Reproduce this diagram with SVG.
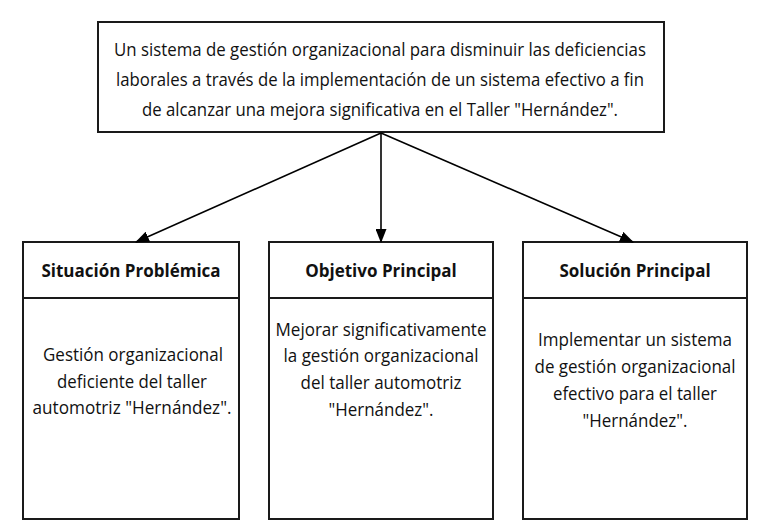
<svg xmlns="http://www.w3.org/2000/svg" width="764" height="531" viewBox="0 0 764 531">
<defs>
<marker id="ah" markerWidth="14" markerHeight="11" refX="13" refY="5.5" orient="auto" markerUnits="userSpaceOnUse">
<path d="M0,0 L14,5.5 L0,11 Z" fill="#000"/>
</marker>
<style>
.box{fill:#fff;stroke:#1a1a1a;stroke-width:2}
.t{font-family:"Open Sans","Noto Sans",sans-serif;font-size:19px;fill:#111;text-anchor:middle}
.h{font-family:"Open Sans","Noto Sans",sans-serif;font-size:17px;font-weight:bold;fill:#111;text-anchor:middle}
.c{stroke:#000;stroke-width:1.6;fill:none}
</style>
</defs>
<rect width="764" height="531" fill="#fff"/>
<g id="top">
<rect class="box" x="98" y="22" width="566" height="110"/>
<text class="t" x="380" y="56" textLength="532" lengthAdjust="spacingAndGlyphs">Un sistema de gestión organizacional para disminuir las deficiencias</text>
<text class="t" x="380" y="86" textLength="528" lengthAdjust="spacingAndGlyphs">laborales a través de la implementación de un sistema efectivo a fin</text>
<text class="t" x="380" y="116" textLength="476" lengthAdjust="spacingAndGlyphs">de alcanzar una mejora significativa en el Taller "Hernández".</text>
</g>
<g id="situacion">
<rect class="box" x="23" y="242" width="216" height="277"/>
<line class="box" x1="23" y1="298" x2="239" y2="298"/>
<text class="h" x="131" y="277">Situación Problémica</text>
<text class="t" x="133" y="361" textLength="180" lengthAdjust="spacingAndGlyphs">Gestión organizacional</text>
<text class="t" x="132" y="388" textLength="150" lengthAdjust="spacingAndGlyphs">deficiente del taller</text>
<text class="t" x="132" y="414" textLength="199" lengthAdjust="spacingAndGlyphs">automotriz "Hernández".</text>
</g>
<g id="objetivo">
<rect class="box" x="269" y="242" width="224" height="277"/>
<line class="box" x1="269" y1="298" x2="493" y2="298"/>
<text class="h" x="381" y="277">Objetivo Principal</text>
<text class="t" x="381" y="336" textLength="211" lengthAdjust="spacingAndGlyphs">Mejorar significativamente</text>
<text class="t" x="381" y="362" textLength="195" lengthAdjust="spacingAndGlyphs">la gestión organizacional</text>
<text class="t" x="381" y="389" textLength="161" lengthAdjust="spacingAndGlyphs">del taller automotriz</text>
<text class="t" x="381" y="416" textLength="105" lengthAdjust="spacingAndGlyphs">"Hernández".</text>
</g>
<g id="solucion">
<rect class="box" x="523" y="242" width="224" height="277"/>
<line class="box" x1="523" y1="298" x2="747" y2="298"/>
<text class="h" x="635" y="277">Solución Principal</text>
<text class="t" x="635" y="346" textLength="194" lengthAdjust="spacingAndGlyphs">Implementar un sistema</text>
<text class="t" x="635" y="373" textLength="201" lengthAdjust="spacingAndGlyphs">de gestión organizacional</text>
<text class="t" x="635" y="400" textLength="164" lengthAdjust="spacingAndGlyphs">efectivo para el taller</text>
<text class="t" x="635" y="427" textLength="105" lengthAdjust="spacingAndGlyphs">"Hernández".</text>
</g>
<g id="connectors">
<line class="c" x1="381" y1="133" x2="136" y2="242" marker-end="url(#ah)"/>
<line class="c" x1="381" y1="133" x2="381" y2="242" marker-end="url(#ah)"/>
<line class="c" x1="381" y1="133" x2="633" y2="242" marker-end="url(#ah)"/>
</g>
</svg>
